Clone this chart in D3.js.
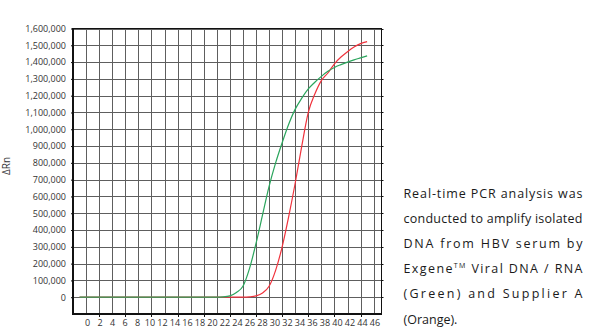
<!DOCTYPE html>
<html>
<head>
<meta charset="utf-8">
<script src="https://cdn.jsdelivr.net/npm/d3@7"></script>
<style>
  html, body { margin: 0; padding: 0; background: #fff; }
  svg { display: block; }
  .lbl { font-family: "Open Sans", "Noto Sans", sans-serif; font-size: 9px; fill: #333; }
  .note { font-family: "Open Sans", "Noto Sans", sans-serif; font-size: 12.5px; fill: #1a1a1a; }
</style>
</head>
<body>
<svg id="chart" width="593" height="336"></svg>
<script>
// Amplification cycles at which each curve is sampled
const cycles = [-1, 0, 2, 4, 6, 8, 10, 12, 14, 16, 18, 20, 21, 22, 23, 24, 25, 26, 27, 28, 29, 30,
                31, 32, 33, 34, 35, 36, 37, 38, 39, 40, 41, 42, 43];

// ΔRn, Exgene Viral DNA / RNA (green)
const greenRn = [0, 0, 0, 0, 0, 0, 0, 0, 0, 0, 0, 500, 2000, 8000, 28000, 65000, 170000, 320000,
                 490000, 660000, 800000, 920000, 1030000, 1120000, 1185000, 1240000, 1280000,
                 1315000, 1345000, 1368000, 1385000, 1400000, 1413000, 1425000, 1437000];

// ΔRn, Supplier A (red)
const redRn = [0, 0, 0, 0, 0, 0, 0, 0, 0, 0, 0, 0, 0, 0, 0, 0, 2000, 8000, 25000, 65000, 160000,
               300000, 480000, 680000, 900000, 1100000, 1210000, 1290000, 1335000, 1390000,
               1430000, 1462000, 1490000, 1510000, 1522000];

// Axis tick labels
const yTicks = d3.range(0, 1600001, 100000);
const xLabels = d3.range(0, 47, 2).map(String);
const gridCycles = d3.range(0, 45, 2);
const tickCycles = d3.range(2, 43, 4);

const noteLines = [
  "Real-time PCR analysis was",
  "conducted to amplify isolated",
  "DNA from HBV serum by",
  null, // Exgene line with superscript
  "(Green) and Supplier A",
  "(Orange)."
];

const svg = d3.select("#chart");
const pLeft = 73, pRight = 381.5, pTop = 28.5, pBottom = 314;

const x = d3.scaleLinear().domain([-2, 45.2]).range([pLeft, pRight]);
const y = d3.scaleLinear().domain([-100000, 1600000]).range([pBottom, pTop]);
const xl = d3.scalePoint().domain(xLabels).range([87, 374.5]);

// Grid
const grid = svg.append("g").attr("stroke", "#5e5e5e").attr("stroke-width", 1).attr("shape-rendering", "crispEdges");
grid.selectAll("line.h").data(yTicks).join("line")
  .attr("x1", pLeft).attr("x2", pRight)
  .attr("y1", d => Math.round(y(d)) + 0.5).attr("y2", d => Math.round(y(d)) + 0.5);
grid.selectAll("line.v").data(gridCycles).join("line")
  .attr("y1", pTop).attr("y2", pBottom)
  .attr("x1", d => Math.round(x(d)) + 0.5).attr("x2", d => Math.round(x(d)) + 0.5);

// Frame: left axis, top, right border, bottom axis
const frame = svg.append("g").attr("stroke", "#111").attr("stroke-width", 1.2).attr("fill", "none")
  .attr("shape-rendering", "crispEdges");
frame.append("rect").attr("x", pLeft).attr("y", pTop).attr("width", pRight - pLeft).attr("height", pBottom - pTop);

// Left axis ticks and labels
const yAxis = d3.axisLeft(y).tickValues(yTicks).tickSize(2).tickPadding(5)
  .tickFormat(d3.format(","));
const ya = svg.append("g").attr("transform", `translate(${pLeft},0)`).call(yAxis);
ya.select(".domain").remove();
ya.selectAll("text").attr("class", "lbl").attr("fill", null);
ya.selectAll("line").attr("stroke", "#111");

// Right-side small ticks
svg.append("g").selectAll("line").data(yTicks).join("line")
  .attr("x1", pRight).attr("x2", pRight + 2)
  .attr("y1", d => Math.round(y(d)) + 0.5).attr("y2", d => Math.round(y(d)) + 0.5)
  .attr("stroke", "#111");

// Bottom ticks
svg.append("g").selectAll("line").data(tickCycles).join("line")
  .attr("x1", d => Math.round(x(d)) + 0.5).attr("x2", d => Math.round(x(d)) + 0.5)
  .attr("y1", pBottom).attr("y2", pBottom + 3)
  .attr("stroke", "#111");

// Bottom labels
const xAxis = d3.axisBottom(xl).tickSize(0).tickPadding(6);
const xa = svg.append("g").attr("transform", `translate(0,${pBottom})`).call(xAxis);
xa.select(".domain").remove();
xa.selectAll("text").attr("class", "lbl").attr("fill", null);

// Axis title
svg.append("text").attr("class", "lbl")
  .attr("transform", "translate(10,166) rotate(-90)")
  .attr("text-anchor", "middle")
  .style("font-size", "10px")
  .text("\u0394Rn");

// Curves
const line = d3.line().x((d, i) => x(cycles[i])).y(d => y(d)).curve(d3.curveMonotoneX);
svg.append("path").datum(redRn).attr("d", line)
  .attr("fill", "none").attr("stroke", "#f0323c").attr("stroke-width", 1.2);
svg.append("path").datum(greenRn).attr("d", line)
  .attr("fill", "none").attr("stroke", "#2aa55c").attr("stroke-width", 1.2);

// Description block
const nx = 403.5, ny = 197.5, nstep = 25.2, nwidth = 179;
noteLines.forEach((t, i) => {
  const txt = svg.append("text").attr("class", "note")
    .attr("x", nx).attr("y", ny + i * nstep);
  if (t === null) {
    txt.append("tspan").text("Exgene");
    txt.append("tspan").attr("dy", -5).style("font-size", "7px").text("TM");
    txt.append("tspan").attr("dy", 5).text(" Viral DNA / RNA");
  } else {
    txt.text(t);
  }
  if (i < noteLines.length - 1) {
    txt.attr("textLength", nwidth).attr("lengthAdjust", "spacing");
  }
});
</script>
</body>
</html>
